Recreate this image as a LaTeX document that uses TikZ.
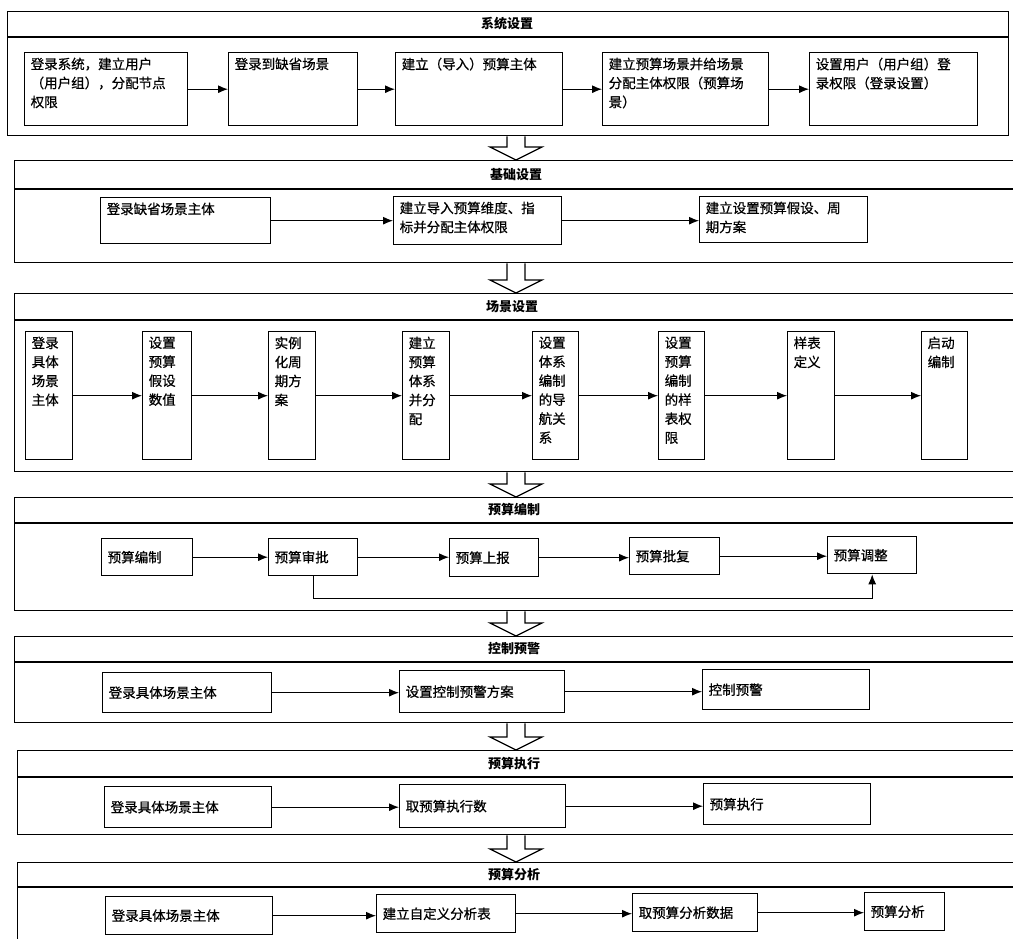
\documentclass[tikz,border=0pt]{standalone}
\usepackage{fontspec}
\newfontfamily\cjk{Noto Sans CJK SC}
\newfontfamily\cjkb{Noto Sans CJK SC}[FakeBold=0.6]
\usetikzlibrary{arrows.meta,calc}
% top-aligned box: name, x, y, w, h, text
\newcommand\TopBox[6]{\node[box] (#1) at (#2,#3) {\parbox[t][\dimexpr #5pt-10pt\relax][t]{\dimexpr #4pt-12pt\relax}{#6}};}
% vertically centred box: name, x, y, w, h, text
\newcommand\MidBox[6]{\node[box] (#1) at (#2,#3) {\parbox[c][\dimexpr #5pt-10pt\relax][c]{\dimexpr #4pt-12pt\relax}{#6}};}
% section frame: name, x, y, w, h, header y, title, title x
\newcommand\Section[8]{%
  \node[sect, minimum width=#4, minimum height=#5] (#1) at (#2,#3) {};
  \draw[sectline] (#1.west |- 0,#6) -- (#1.east |- 0,#6);
  \node[title] (#1t) at (#8,{(#3+#6)/2}) {#7};}
\tikzset{
  box/.style={draw, line width=1.4pt, fill=white, inner xsep=6pt, inner ysep=5pt,
    anchor=north west, font=\cjkb\fontsize{13.5}{19}\selectfont},
  sect/.style={draw, line width=1.3pt, inner sep=0pt, anchor=north west},
  sectline/.style={line width=1.3pt},
  title/.style={font=\cjk\bfseries\fontsize{13}{15}\selectfont, inner sep=0pt},
  conn/.style={line width=1pt, -{Latex[length=10pt,width=8pt]}},
  blk/.style={draw, line width=1.2pt, fill=white, line join=miter},
}
\newcommand\BlockArrow[2]{%
  \draw[blk] let \p1=(#1), \p2=(#2) in
    (\x1-9pt,\y1) -- (\x1-9pt,\y2+13pt) -- (\x1-26pt,\y2+13pt) -- (\x2,\y2)
    -- (\x1+26pt,\y2+13pt) -- (\x1+9pt,\y2+13pt) -- (\x1+9pt,\y1);}
\begin{document}
\begin{tikzpicture}[x=1pt,y=-1pt]
\useasboundingbox (0,0) rectangle (1013,939);
\clip (0,0) rectangle (1013,939);
\fill[white] (0,0) rectangle (1013,939);

% ---------- sections ----------
\Section{S1}{7}{11}{1001}{124}{37}{系统设置}{507}
\Section{S2}{14}{160}{1016}{102}{189}{基础设置}{516}
\Section{S3}{14}{293}{1016}{178}{320}{场景设置}{512}
\Section{S4}{14}{497}{1016}{113}{523}{预算编制}{514}
\Section{S5}{14}{636}{1016}{86}{662}{控制预警}{514}
\Section{S6}{17}{750}{1013}{84}{777}{预算执行}{514}
\Section{S7}{17}{862}{1013}{100}{887}{预算分析}{514}

% ---------- block arrows between sections ----------
\coordinate (ax) at (516,0);
\BlockArrow{ax |- S1.south}{ax |- S2.north}
\BlockArrow{ax |- S2.south}{ax |- S3.north}
\BlockArrow{ax |- S3.south}{ax |- S4.north}
\BlockArrow{ax |- S4.south}{ax |- S5.north}
\BlockArrow{ax |- S5.south}{ax |- S6.north}
\BlockArrow{ax |- S6.south}{ax |- S7.north}

% ---------- 系统设置 ----------
\TopBox{a1}{24}{52}{163}{73}{登录系统，建立用户\\（用户组），分配节点\\权限}
\TopBox{a2}{228}{52}{129}{73}{登录到缺省场景}
\TopBox{a3}{395}{52}{167}{73}{建立（导入）预算主体}
\TopBox{a4}{602}{52}{166}{73}{建立预算场景并给场景\\分配主体权限（预算场\\景）}
\TopBox{a5}{809}{52}{168}{73}{设置用户（用户组）登\\录权限（登录设置）}
\draw[conn] (a1) -- (a2);
\draw[conn] (a2) -- (a3);
\draw[conn] (a3) -- (a4);
\draw[conn] (a4) -- (a5);

% ---------- 基础设置 ----------
\TopBox{b1}{100}{197}{170}{46}{登录缺省场景主体}
\TopBox{b2}{393}{196}{168}{48}{建立导入预算维度、指\\标并分配主体权限}
\TopBox{b3}{699}{196}{168}{46}{建立设置预算假设、周\\期方案}
\draw[conn] (b1.east) -- (b1.east -| b2.west);
\draw[conn] (b2.east) -- (b2.east -| b3.west);

% ---------- 场景设置 ----------
\TopBox{c1}{25}{331}{47}{128}{登录\\具体\\场景\\主体}
\TopBox{c2}{142}{331}{49}{128}{设置\\预算\\假设\\数值}
\TopBox{c3}{268}{331}{47}{128}{实例\\化周\\期方\\案}
\TopBox{c4}{402}{331}{47}{128}{建立\\预算\\体系\\并分\\配}
\TopBox{c5}{532}{331}{46}{128}{设置\\体系\\编制\\的导\\航关\\系}
\TopBox{c6}{658}{331}{46}{128}{设置\\预算\\编制\\的样\\表权\\限}
\TopBox{c7}{787}{331}{47}{128}{样表\\定义}
\TopBox{c8}{921}{331}{46}{128}{启动\\编制}
\foreach \u/\v in {c1/c2,c2/c3,c3/c4,c4/c5,c5/c6,c6/c7,c7/c8}
  \draw[conn] (\u) -- (\v);

% ---------- 预算编制 ----------
\MidBox{d1}{101}{538}{91}{37}{预算编制}
\MidBox{d2}{268}{538}{89}{37}{预算审批}
\MidBox{d3}{449}{538}{89}{38}{预算上报}
\MidBox{d4}{629}{537}{90}{37}{预算批复}
\MidBox{d5}{827}{536}{89}{37}{预算调整}
\draw[conn] (d1.east) -- (d1.east -| d2.west);
\draw[conn] (d2.east) -- (d2.east -| d3.west);
\draw[conn] (d3.east) -- (d3.east -| d4.west);
\draw[conn] (d4.east) -- (d4.east -| d5.west);
\coordinate (loop) at (0,598);
\draw[conn] (d2.south) -- (d2.south |- loop) -| (d5.south);

% ---------- 控制预警 ----------
\MidBox{e1}{102}{672}{169}{40}{登录具体场景主体}
\MidBox{e2}{399}{670}{165}{42}{设置控制预警方案}
\MidBox{e3}{702}{669}{167}{40}{控制预警}
\draw[conn] (e1.east) -- (e1.east -| e2.west);
\draw[conn] (e2.east) -- (e2.east -| e3.west);

% ---------- 预算执行 ----------
\MidBox{f1}{104}{786}{167}{41}{登录具体场景主体}
\MidBox{f2}{399}{784}{166}{43}{取预算执行数}
\MidBox{f3}{703}{783}{167}{41}{预算执行}
\draw[conn] (f1.east) -- (f1.east -| f2.west);
\draw[conn] (f2.east) -- (f2.east -| f3.west);

% ---------- 预算分析 ----------
\MidBox{g1}{105}{896}{167}{38}{登录具体场景主体}
\MidBox{g2}{376}{894}{139}{38}{建立自定义分析表}
\MidBox{g3}{632}{893}{125}{38}{取预算分析数据}
\MidBox{g4}{864}{892}{80}{38}{预算分析}
\draw[conn] (g1.east) -- (g1.east -| g2.west);
\draw[conn] (g2.east) -- (g2.east -| g3.west);
\draw[conn] (g3.east) -- (g3.east -| g4.west);
\end{tikzpicture}
\end{document}
